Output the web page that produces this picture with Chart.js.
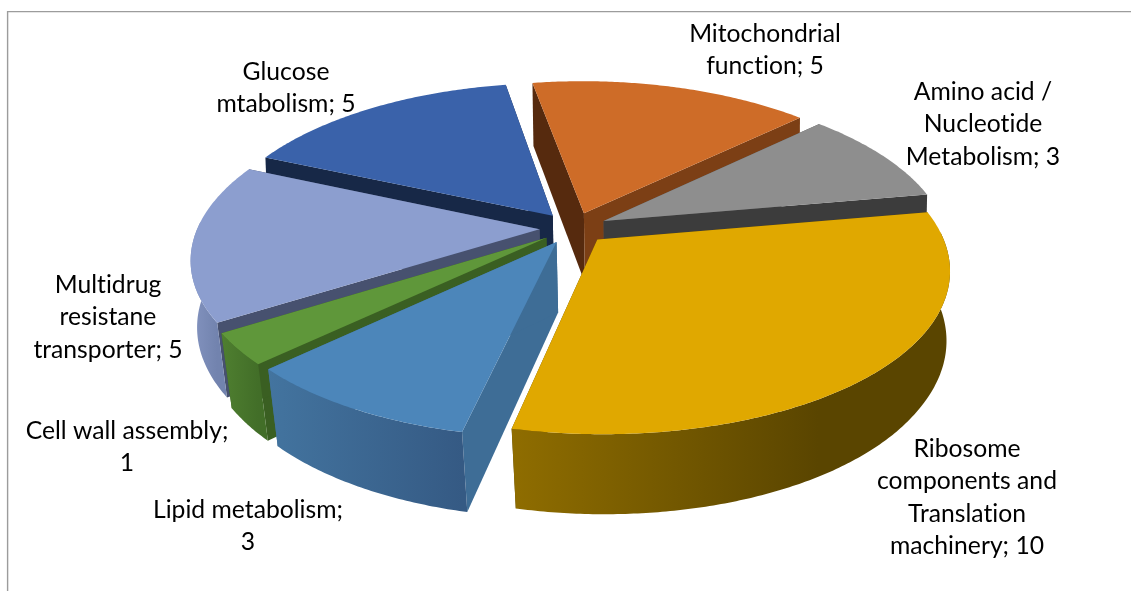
<!DOCTYPE html>
<html>
<head>
<meta charset="utf-8">
<style>
  html, body { margin: 0; padding: 0; background: #fff; }
  canvas { display: block; }
</style>
<script src="https://cdn.jsdelivr.net/npm/chart.js@4"></script>
</head>
<body>
<canvas id="pie" width="1131" height="591"></canvas>
<script>
// Functional categories of the gene set and the number of genes in each.
const categories = [
  "Ribosome|components and|Translation|machinery",
  "Lipid metabolism",
  "Cell wall assembly",
  "Multidrug|resistane|transporter",
  "Glucose|mtabolism",
  "Mitochondrial|function",
  "Amino acid /|Nucleotide|Metabolism"
];
const values = [10, 3, 1, 5, 5, 5, 3];
// Labels whose count wraps on to its own row.
const countOnOwnRow = [false, true, true, false, false, false, false];

const topColors   = ["#E0A800", "#4C86BA", "#5F973A", "#8C9ECF", "#3A62AA", "#CE6C28", "#8E8E8E"];
const startFaces  = ["#5A4500", "#3E6D96", "#3A5F22", "#47516F", "#172847", "#562A0E", "#555555"];
const endFaces    = ["#5A4500", "#3E6D96", "#3A5F22", "#47516F", "#172847", "#7C3F15", "#3C3C3C"];
const wallLeft    = ["#8F6D00", "#43749F", "#4F7F30", "#8494C0", "#24406F", "#7C3F15", "#555555"];
const wallRight   = ["#5A4500", "#355A84", "#426E28", "#7283AE", "#172847", "#562A0E", "#3C3C3C"];
const labelCenterX = [967, 248, 127, 108, 286, 765, 983];
const labelFirstRowY = [449, 510, 431, 285, 72, 34, 92];

// Projection of the pie plane on to the page, with the near side enlarged.
const view = {
  cx: 573.5, cy: 228, radius: 342, squash: 0.463, perspective: 0.165, perspectiveX: 0.175,
  vanishX: 700, converge: 0.98, wallBase: 63, wallGrow: 0.0487, wallRefY: 84,
  rowHeight: 32.4, font: "24.7px Lato, Carlito, sans-serif"
};
// Painting order, far slices first.
const paintOrder = [5, 6, 4, 3, 2, 1, 0];

function project(u, v) {
  const s = 1 / (1 - view.perspective * v / view.radius);
  const sx = 1 / (1 - view.perspectiveX * v / view.radius);
  return { x: view.cx + u * sx, y: view.cy + view.squash * v * s };
}
function dropToBase(p) {
  // Vertical edges lean inward more strongly towards the near side.
  const lean = Math.min(1.1, Math.max(0.3, (p.y - 150) / 170));
  return {
    x: p.x + (view.vanishX - p.x) * (1 - view.converge) * lean,
    y: p.y + view.wallBase + (p.y - view.wallRefY) * view.wallGrow
  };
}
function tracePath(ctx, pts) {
  ctx.beginPath();
  pts.forEach((p, i) => i ? ctx.lineTo(p.x, p.y) : ctx.moveTo(p.x, p.y));
  ctx.closePath();
}

const exploded3d = {
  id: "exploded3d",
  beforeDraw(chart) {
    // Thin top and left frame of the chart area.
    const ctx = chart.ctx;
    ctx.save();
    ctx.strokeStyle = "#9C9C9C";
    ctx.lineWidth = 1.4;
    ctx.beginPath();
    ctx.moveTo(7.6, 591);
    ctx.lineTo(7.6, 11.6);
    ctx.lineTo(1131, 11.6);
    ctx.stroke();
    ctx.restore();
  },
  beforeDatasetsDraw(chart) {
    const ctx = chart.ctx;
    const arcs = chart.getDatasetMeta(0).data;
    paintOrder.forEach(i => drawSlice(ctx, arcs[i], i));
    drawLabels(ctx, chart);
    return false; // the flat arcs are replaced by the projected solids
  }
};

function drawSlice(ctx, arc, i) {
  const a0 = arc.startAngle, a1 = arc.endAngle, mid = (a0 + a1) / 2;
  const ex = arc.options.offset;
  const ox = ex * Math.cos(mid), oy = ex * Math.sin(mid);
  const R = view.radius;
  const rim = [], facing = [];
  const steps = Math.max(8, Math.ceil((a1 - a0) / 0.01));
  for (let k = 0; k <= steps; k++) {
    const t = a0 + (a1 - a0) * k / steps;
    const p = project(ox + R * Math.cos(t), oy + R * Math.sin(t));
    rim.push(p);
    if (Math.sin(t) > -0.05) facing.push(p); // only the viewer's side of the wall shows
  }
  const apex = project(ox, oy);
  const apexBase = dropToBase(apex);

  // Cut faces along the two radii.
  ctx.fillStyle = startFaces[i];
  tracePath(ctx, [apex, rim[0], dropToBase(rim[0]), apexBase]);
  ctx.fill();
  ctx.fillStyle = endFaces[i];
  tracePath(ctx, [apex, rim[steps], dropToBase(rim[steps]), apexBase]);
  ctx.fill();

  // Curved outer wall, shaded from left to right.
  if (facing.length > 1) {
    const xs = facing.map(p => p.x);
    const g = ctx.createLinearGradient(Math.min(...xs), 0, Math.max(...xs), 0);
    g.addColorStop(0, wallLeft[i]);
    g.addColorStop(i === 0 ? 0.7 : 1, wallRight[i]);
    if (i === 0) g.addColorStop(1, wallRight[i]);
    ctx.fillStyle = g;
    tracePath(ctx, facing.concat(facing.map(dropToBase).reverse()));
    ctx.fill();
  }

  // Top surface.
  ctx.fillStyle = arc.options.backgroundColor;
  tracePath(ctx, [apex].concat(rim));
  ctx.fill();
}

function drawLabels(ctx, chart) {
  ctx.save();
  ctx.font = view.font;
  ctx.letterSpacing = "0.01px"; // keeps "ti" as two separate letters
  ctx.fillStyle = "#000";
  ctx.textAlign = "center";
  ctx.textBaseline = "middle";
  chart.data.labels.forEach((name, i) => {
    const count = chart.data.datasets[0].data[i];
    const text = countOnOwnRow[i] ? name + ";|" + count : name + "; " + count;
    text.split("|").forEach((row, r) => {
      ctx.fillText(row, labelCenterX[i], labelFirstRowY[i] + r * view.rowHeight);
    });
  });
  ctx.restore();
}

new Chart(document.getElementById("pie"), {
  type: "pie",
  data: {
    labels: categories,
    datasets: [{
      data: values,
      backgroundColor: topColors,
      borderWidth: 0,
      offset: 34,
      hoverOffset: 34
    }]
  },
  options: {
    responsive: false,
    animation: false,
    rotation: 80,
    layout: { padding: 0 },
    plugins: { legend: { display: false }, tooltip: { enabled: false } }
  },
  plugins: [exploded3d]
});
</script>
</body>
</html>
